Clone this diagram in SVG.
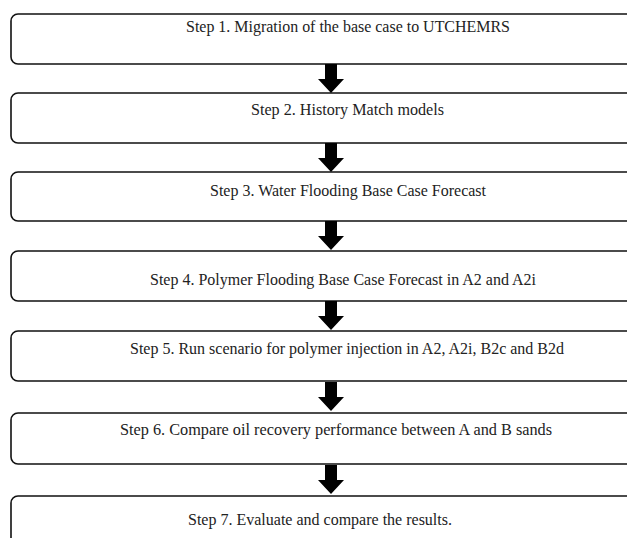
<svg xmlns="http://www.w3.org/2000/svg" width="627" height="538" viewBox="0 0 627 538">
<style>
.box{fill:#fff;stroke:#111;stroke-width:1.6}
.t{font-family:"Liberation Serif","Times New Roman",serif;font-size:16px;fill:#222;text-anchor:middle}
.arr{fill:#000}
</style>
<rect width="627" height="538" fill="#fff"/>
<g id="step1"><rect class="box" x="11" y="14" width="640" height="50" rx="7"/><text class="t" x="348" y="32" textLength="324" lengthAdjust="spacingAndGlyphs">Step 1. Migration of the base case to UTCHEMRS</text></g>
<g id="step2"><rect class="box" x="11" y="93" width="640" height="50" rx="7"/><text class="t" x="347.5" y="115" textLength="193" lengthAdjust="spacingAndGlyphs">Step 2. History Match models</text></g>
<g id="step3"><rect class="box" x="11" y="172" width="640" height="49" rx="7"/><text class="t" x="348" y="196" textLength="276" lengthAdjust="spacingAndGlyphs">Step 3. Water Flooding Base Case Forecast</text></g>
<g id="step4"><rect class="box" x="11" y="251" width="640" height="50" rx="7"/><text class="t" x="343" y="285" textLength="386" lengthAdjust="spacingAndGlyphs">Step 4. Polymer Flooding Base Case Forecast in A2 and A2i</text></g>
<g id="step5"><rect class="box" x="11" y="331" width="640" height="50" rx="7"/><text class="t" x="347" y="354" textLength="434" lengthAdjust="spacingAndGlyphs">Step 5. Run scenario for polymer injection in A2, A2i, B2c and B2d</text></g>
<g id="step6"><rect class="box" x="11" y="413" width="640" height="51" rx="7"/><text class="t" x="336" y="435" textLength="432" lengthAdjust="spacingAndGlyphs">Step 6. Compare oil recovery performance between A and B sands</text></g>
<g id="step7"><rect class="box" x="11" y="496" width="640" height="60" rx="7"/><text class="t" x="320" y="525" textLength="264" lengthAdjust="spacingAndGlyphs">Step 7. Evaluate and compare the results.</text></g>
<g id="connectors">
<defs><path id="a" class="arr" d="M-6,0 H6 V15 H13 L0,29 L-13,15 H-6 Z"/></defs>
<use href="#a" x="331" y="64"/>
<use href="#a" x="331" y="143"/>
<use href="#a" x="331" y="221"/>
<use href="#a" x="331" y="301"/>
<use href="#a" x="331" y="382"/>
<use href="#a" x="331" y="465"/>
</g>
</svg>
